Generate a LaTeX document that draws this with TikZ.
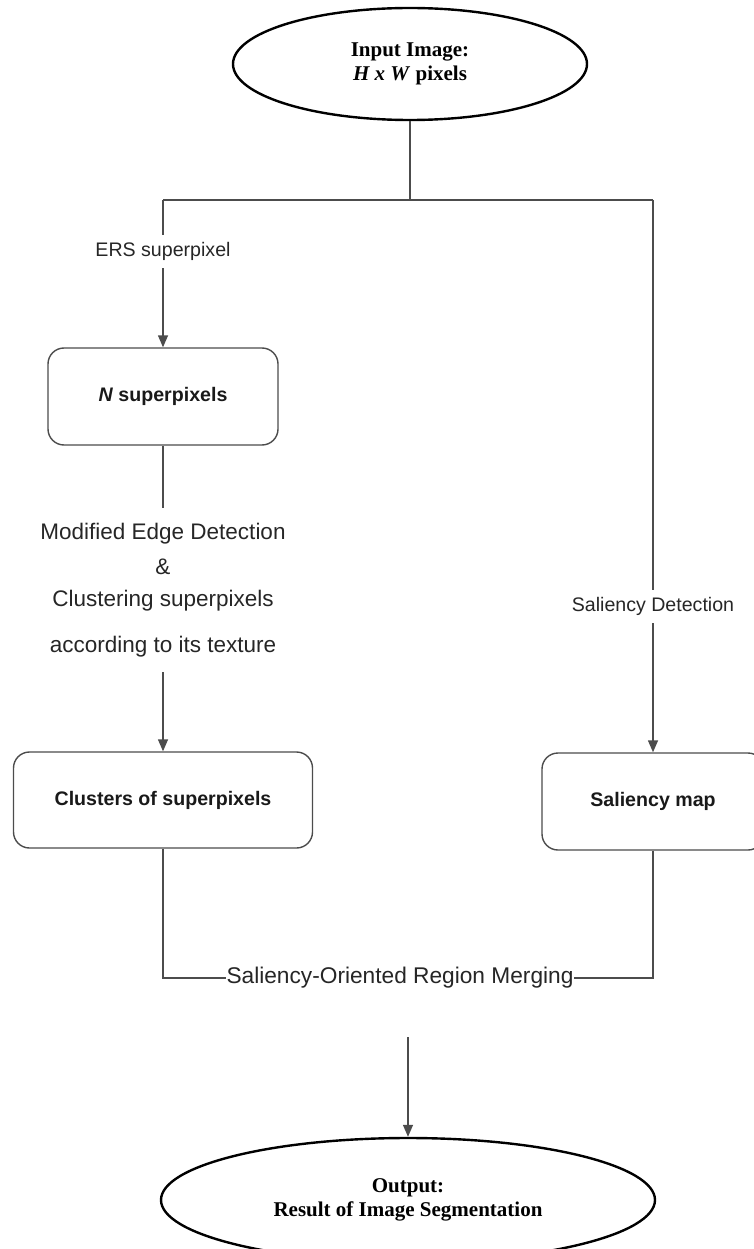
\documentclass[tikz,border=0pt]{standalone}
\usepackage{fontspec}
\setmainfont{Liberation Serif}
\setsansfont{Liberation Sans}
\usetikzlibrary{shapes.geometric,arrows.meta}

\tikzstyle{termbox} = [draw=black, line width=2.4pt, ellipse, fill=white,
    align=center, inner sep=0pt, font=\bfseries\fontsize{21}{24}\selectfont]
\tikzstyle{procbox} = [draw=black!70, line width=1.4pt, rectangle,
    rounded corners=16pt, align=center, text=black!90,
    font=\sffamily\bfseries\fontsize{19.6}{23}\selectfont]
\tikzstyle{flowlabel} = [inner sep=0pt, minimum height=33pt, text=black!85,
    align=center, font=\sffamily\fontsize{19.6}{23}\selectfont]
\tikzstyle{flowline} = [draw=black!70, line width=1.4pt]
\tikzstyle{flowarrow} = [flowline, -{Triangle[length=12pt,width=10pt]}]

\begin{document}
\begin{tikzpicture}[x=1pt, y=-1pt]
    \useasboundingbox (0,0) rectangle (754,1249);
    \node [termbox, minimum width=354pt, minimum height=112pt] (input) at (410,64)
        {Input Image:\\ \textit{H x W} pixels};
%------------ Verzweigung ---------------------
    \coordinate (split) at (410,200);
    \coordinate (splitL) at (163,200);
    \coordinate (splitR) at (653,200);
    \draw [flowline] (input) -- (split);
    \draw [flowline] (splitL) -- (splitR);
%------------ linker Zweig ---------------------
    \node [flowlabel] (ers) at (163,251.5) {ERS superpixel};
    \node [procbox, minimum width=230pt, minimum height=97pt] (nsp) at (163,396.5)
        {\textit{N} superpixels};
    \node [flowlabel, minimum height=164pt, font=\sffamily\fontsize{22.5}{27}\selectfont]
        (edge) at (163,590)
        {Modified Edge Detection\\[8pt] \&\\[5pt] Clustering superpixels\\[19pt] according to its texture};
    \node [procbox, minimum width=299pt, minimum height=96pt] (clu) at (163,800)
        {Clusters of superpixels};
    \draw [flowline] (splitL) -- (ers);
    \draw [flowarrow] (ers) -- (nsp);
    \draw [flowline] (nsp) -- (edge);
    \draw [flowarrow] (edge) -- (clu);
%------------ rechter Zweig ---------------------
    \node [flowlabel] (sald) at (653,606.5) {Saliency Detection};
    \node [procbox, minimum width=222pt, minimum height=97pt] (salmap) at (653,801.5)
        {Saliency map};
    \draw [flowline] (splitR) -- (sald);
    \draw [flowarrow] (sald) -- (salmap);
%------------ Zusammenführung ---------------------
    \node [fill=white, inner sep=0pt, text=black!85,
        font=\sffamily\fontsize{22.7}{27}\selectfont] (merge) at (400,978)
        {Saliency-Oriented Region Merging};
    \draw [flowline] (clu.south) |- (merge.west);
    \draw [flowline] (salmap.south) |- (merge.east);
    \coordinate (mergeout) at (408,1037);
    \node [termbox, minimum width=494pt, minimum height=124pt] (output) at (408,1200)
        {Output:\\ Result of Image Segmentation};
    \draw [flowarrow] (mergeout) -- (output);
\end{tikzpicture}
\end{document}
